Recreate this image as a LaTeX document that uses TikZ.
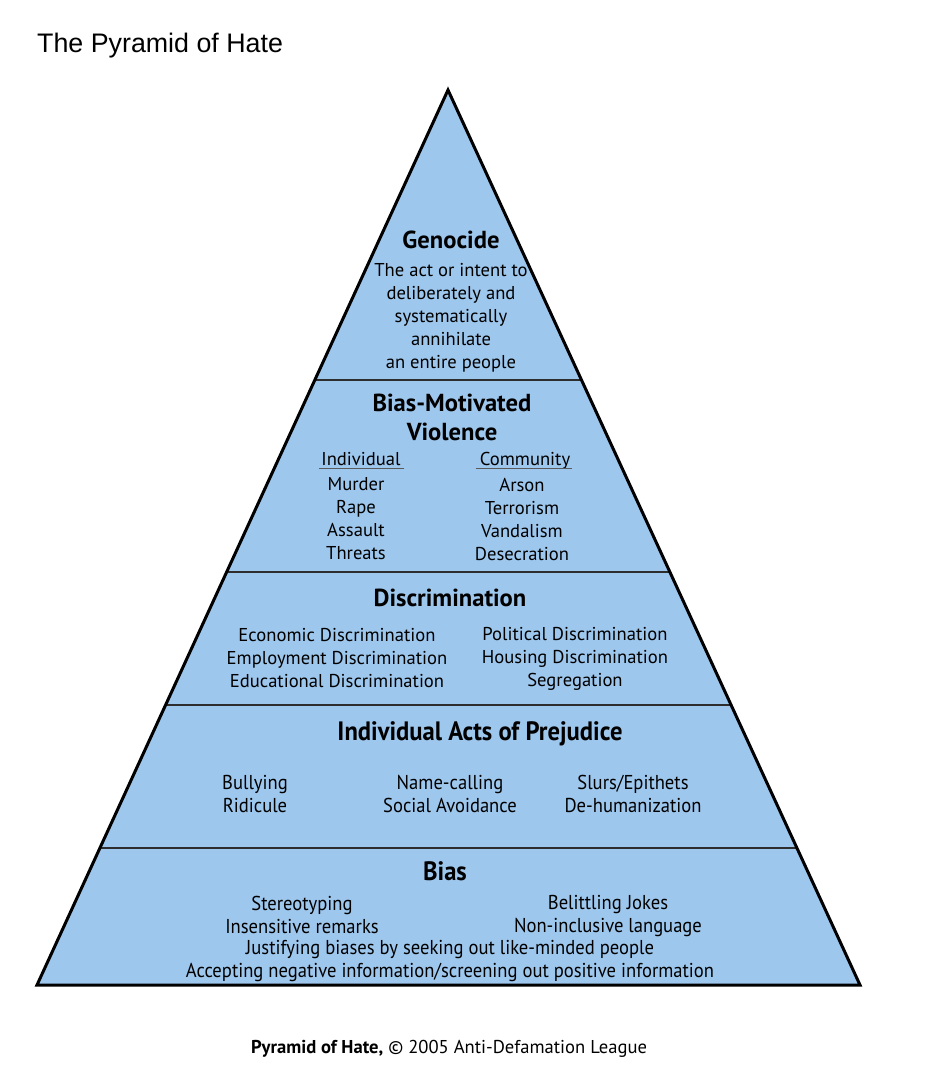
\documentclass[tikz,border=0pt]{standalone}
\usepackage{fontspec}
\setmainfont{PT Sans}
\newfontfamily\titlefont{Liberation Sans}
\usetikzlibrary{calc}
\definecolor{pyrblue}{RGB}{158,199,237}
\definecolor{linegray}{RGB}{45,45,45}
\definecolor{ulgray}{RGB}{90,90,90}

\begin{document}
\begin{tikzpicture}[x=1pt, y=-1pt,
  lvlhead/.style = {font=\fontsize{24.6}{29}\selectfont\bfseries, align=center, inner sep=0pt},
  lvltext/.style = {font=\fontsize{18.6}{23}\selectfont, align=center, inner sep=0pt},
  colhead/.style = {lvltext, text height=13pt, text depth=3pt},
  tall/.style    = {yscale=1.08, transform shape},
  talltext/.style = {lvltext, tall, font=\fontsize{18.6}{21.3}\selectfont},
  divider/.style = {linegray, line width=1.6pt},
  uline/.style   = {ulgray, line width=0.8pt}
]
  \useasboundingbox (0,0) rectangle (926,1074);
  \fill[white] (0,0) rectangle (926,1074);

  \node[anchor=base west, inner sep=0pt, font=\titlefont\fontsize{26.8}{30}\selectfont] (title) at (37,52) {The Pyramid of Hate};

  % pyramid outline and level dividers
  \coordinate (apex) at (448,90);
  \coordinate (bl) at (37,985);
  \coordinate (br) at (860,985);
  \fill[pyrblue] (apex) -- (bl) -- (br) -- cycle;
  \foreach \t/\n in {0.324/a, 0.5385/b, 0.687/c, 0.847/d} {
    \coordinate (l\n) at ($(apex)!\t!(bl)$);
    \coordinate (r\n) at ($(apex)!\t!(br)$);
    \draw[divider] (l\n) -- (r\n);
  }
  \draw[line width=3pt, line join=miter] (apex) -- (bl) -- (br) -- cycle;

  % Genocide
  \node[lvlhead] (geno) at (451,240) {Genocide};
  \node[lvltext] (genotxt) at (451,318) {The act or intent to\\deliberately and\\systematically\\annihilate\\an entire people};

  % Bias-Motivated Violence
  \node[lvlhead] (viol) at (452,417) {Bias-Motivated\\Violence};
  \node[colhead] (indhead) at (361,460) {Individual};
  \node[colhead] (comhead) at (525,460) {Community};
  \draw[uline] ([xshift=-2pt]indhead.south west) -- ([xshift=3pt]indhead.south east);
  \draw[uline] ([xshift=-4pt]comhead.south west) -- ([xshift=2pt]comhead.south east);
  \node[lvltext] (indlist) at (356,519) {Murder\\Rape\\Assault\\Threats};
  \node[lvltext] (comlist) at (522,519) {Arson\\Terrorism\\Vandalism\\Desecration};

  % Discrimination
  \node[lvlhead] (disc) at (450,598) {Discrimination};
  \node[lvltext] (discl) at (337,658) {Economic Discrimination\\Employment Discrimination\\Educational Discrimination};
  \node[lvltext] (discr) at (575,659) {Political Discrimination\\Housing Discrimination\\Segregation};

  % Individual Acts of Prejudice
  \node[lvlhead, tall] (acts) at (480,734) {Individual Acts of Prejudice};
  \node[talltext] (actsa) at (255,794) {Bullying\\Ridicule};
  \node[talltext] (actsb) at (450,794) {Name-calling\\Social Avoidance};
  \node[talltext] (actsc) at (633,794) {Slurs/Epithets\\De-humanization};

  % Bias
  \node[lvlhead, tall] (bias) at (445,871) {Bias};
  \node[talltext] (biasa) at (302,915) {Stereotyping\\Insensitive remarks};
  \node[talltext] (biasb) at (608,916) {Belittling Jokes\\Non-inclusive language};
  \node[talltext] (biasc) at (450,961) {Justifying biases by seeking out like-minded people\\Accepting negative information/screening out positive information};

  \node[lvltext] (credit) at (449,1049) {\textbf{Pyramid of Hate,} \textcopyright{} 2005 Anti-Defamation League};
\end{tikzpicture}
\end{document}
